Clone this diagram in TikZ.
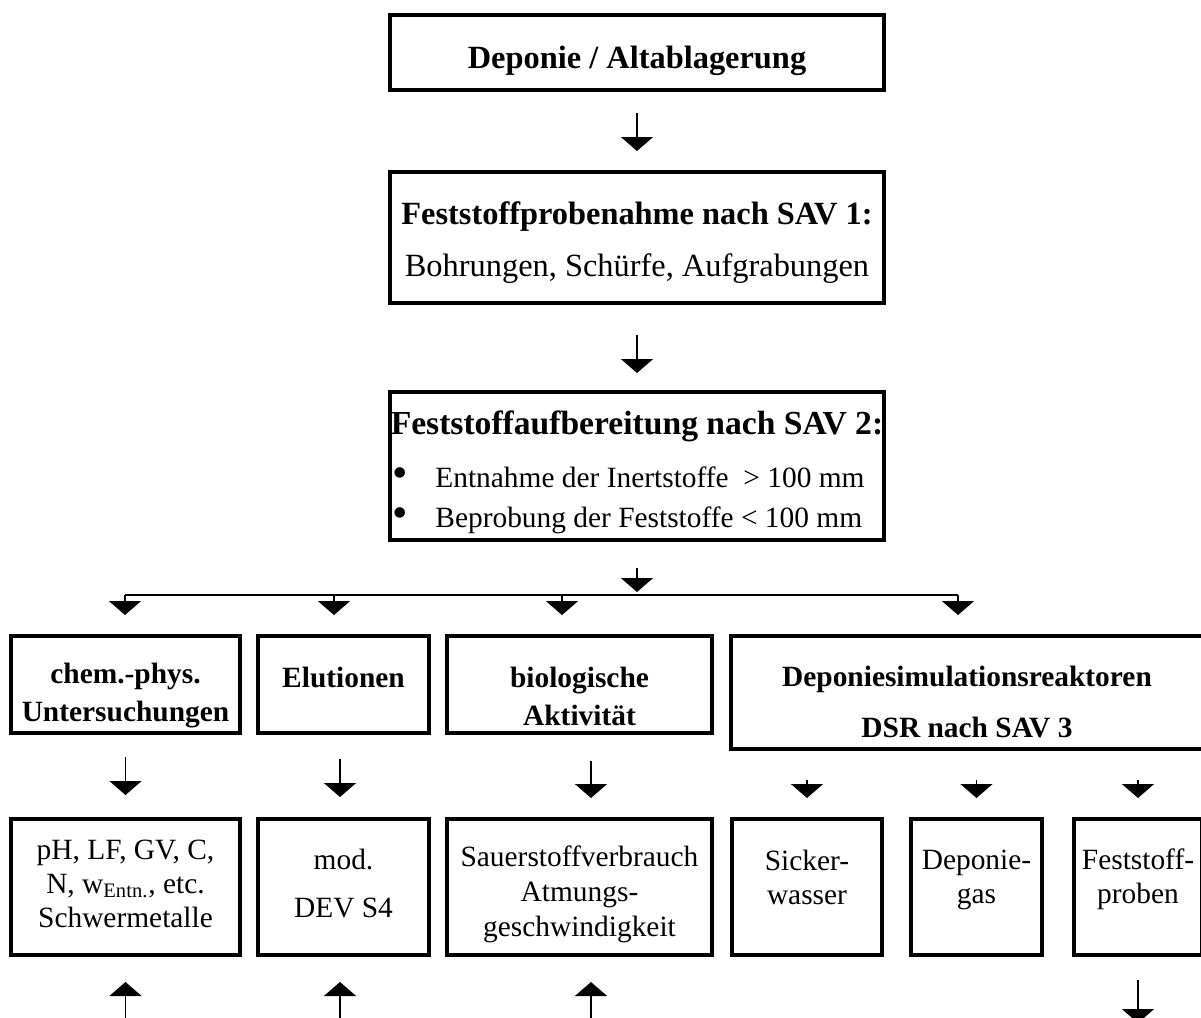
\documentclass[tikz,border=0pt]{standalone}
\usepackage{fontspec}
\setmainfont{Liberation Serif}
\usetikzlibrary{arrows.meta}

\tikzset{
  box/.style={draw, line width=2pt, anchor=north west, inner sep=0pt},
  txt/.style={align=center, font=\fontsize{14.7}{17}\selectfont},
  head/.style={align=center, font=\fontsize{14.7}{17}\selectfont\bfseries},
  big/.style={align=center, font=\fontsize{16.2}{19}\selectfont},
  arr/.style={line width=0.8pt, -{Triangle[width=16pt,length=7pt]}},
}
\newcommand\blt{\makebox[21.5pt][l]{\fontsize{22}{22}\selectfont\textbullet}}

\begin{document}
\begin{tikzpicture}[x=0.5pt,y=-0.5pt]
\useasboundingbox (0,0) rectangle (1201,1018);
% sampling chain
\node[box, minimum width=247pt, minimum height=37.5pt] (depo) at (388,13) {};
\node[big] (depo-t) at (637,61) {\textbf{Deponie / Altablagerung}};
\node[box, minimum width=247pt, minimum height=65.5pt] (probe) at (388,170) {};
\node[big] (probe-t) at (637,243) {\textbf{Feststoffprobenahme nach SAV 1:}\\[7pt]Bohrungen, Schürfe, Aufgrabungen};
\node[box, minimum width=247pt, minimum height=74pt] (aufb) at (388,390) {};
\node[big, font=\fontsize{16.8}{19}\selectfont\bfseries] (aufb-t) at (637,426) {Feststoffaufbereitung nach SAV 2:};
\node[txt, align=left, anchor=west, inner sep=0pt] (aufb-l) at (392,500)
  {\blt Entnahme der Inertstoffe~ > 100 mm\\[3pt]
   \blt Beprobung der Feststoffe < 100 mm};

\draw[arr, shorten <=10.5pt, shorten >=9.5pt] (depo) -- (probe);
\draw[arr, shorten <=15pt, shorten >=8.5pt] (probe) -- (aufb);

% fork
\coordinate (split) at (637,595);
\coordinate (f1) at (125,595);
\coordinate (f2) at (334,595);
\coordinate (f3) at (562,595);
\coordinate (f4) at (958,595);
\draw[arr, shorten <=13pt, shorten >=1.5pt] (aufb) -- (split);
\draw[line width=0.8pt] (f1) -- (f4);

% investigations
\node[box, minimum width=114.5pt, minimum height=48.5pt] (chem) at (9,634) {};
\node[box, minimum width=85.5pt, minimum height=48.5pt] (elu) at (256,634) {};
\node[box, minimum width=132.5pt, minimum height=48.5pt] (bio) at (445,634) {};
\node[box, minimum width=236pt, minimum height=56.5pt] (dsr) at (729,634) {};
\node[head] (chem-t) at (125.5,696) {chem.-phys.\\[2pt]Untersuchungen};
\node[head] (elu-t) at (343.5,677) {Elutionen};
\node[head] (bio-t) at (579.5,696) {biologische\\[2pt]Aktivität};
\node[head] (dsr-t) at (967,702.5) {Deponiesimulationsreaktoren\\[8.5pt]DSR nach SAV 3};

\foreach \f/\b in {f1/chem, f2/elu, f3/bio, f4/dsr}
  \draw[arr, shorten >=9.5pt] (\f) -- (\f |- \b.north);

% results
\node[box, minimum width=114.5pt, minimum height=68pt] (ph) at (9,817) {};
\node[box, minimum width=85.5pt, minimum height=68pt] (mod) at (256,817) {};
\node[box, minimum width=132.5pt, minimum height=68pt] (sau) at (445,817) {};
\node[box, minimum width=75pt, minimum height=68pt] (sick) at (730,817) {};
\node[box, minimum width=65.5pt, minimum height=68pt] (gas) at (909,817) {};
\node[box, minimum width=64pt, minimum height=68pt] (fest) at (1072,817) {};
\node[txt] (ph-t) at (125.5,884) {pH, LF, GV, C,\\N, w\textsubscript{Entn.}, etc.\\Schwermetalle};
\node[txt] (mod-t) at (343.5,884) {mod.\\[7pt]DEV S4};
\node[txt] (sau-t) at (579.5,894) {Sauerstoffverbrauch\\[0.5pt]Atmungs-\\[0.5pt]geschwindigkeit};
\node[txt] (sick-t) at (807,877.5) {Sicker-\\wasser};
\node[txt] (gas-t) at (976.5,879.5) {Deponie-\\gas};
\node[txt] (fest-t) at (1138,879.5) {Feststoff-\\proben};

\draw[arr] ([yshift=-11pt]chem.south) -- ([yshift=11pt]ph.north);
\draw[arr] ([xshift=-1.75pt,yshift=-12pt]elu.south) -- ([xshift=-1.75pt,yshift=10pt]mod.north);
\draw[arr] ([xshift=5.75pt,yshift=-13pt]bio.south) -- ([xshift=5.75pt,yshift=9.5pt]sau.north);
\foreach \b in {sick, gas, fest}
  \draw[arr] ([yshift=18.5pt]\b.north) -- ([yshift=9.5pt]\b.north);

\foreach \b/\s in {ph/0pt, mod/-1.75pt, sau/5.75pt}
  \draw[arr] ([xshift=\s,yshift=-40pt]\b.south) -- ([xshift=\s,yshift=-12.5pt]\b.south);
\draw[arr] ([yshift=-11.5pt]fest.south) -- ([yshift=-33pt]fest.south);
\end{tikzpicture}
\end{document}
